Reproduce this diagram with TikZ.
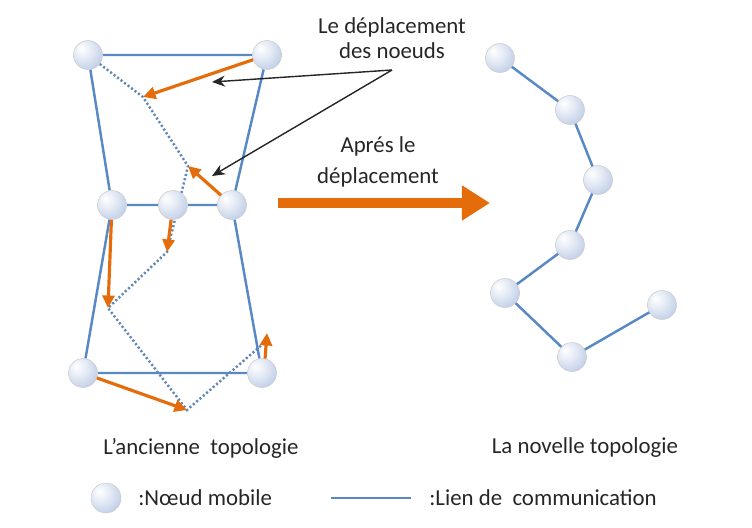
\documentclass[tikz,border=0pt]{standalone}
\usepackage{fontspec}
\setmainfont{Carlito}
\usetikzlibrary{positioning,calc,arrows.meta,backgrounds}
\definecolor{lnk}{RGB}{88,136,198}
\definecolor{mov}{RGB}{228,108,10}
\definecolor{ndb}{RGB}{168,188,222}
\pgfdeclareradialshading{nball}{\pgfpoint{-12bp}{12bp}}{color(0bp)=(white); color(18bp)=(ndb!35); color(45bp)=(ndb); color(70bp)=(ndb!70!gray)}
\tikzset{nd/.style={circle,minimum size=5.8mm,inner sep=0pt,draw=gray!40,line width=0.3pt,shading=nball},
 lk/.style={draw=lnk,line width=1.4pt},
 gh/.style={draw=lnk!80!gray,line width=1.4pt,dash pattern=on 1.2pt off 1.3pt},
 mv/.style={draw=mov,line width=1.8pt,-{Triangle[length=2.5mm,width=2.4mm]}},
 big/.style={draw=mov,line width=5.7pt,-{Triangle[length=16pt,width=19pt]}},
 pt/.style={draw=black!85,line width=0.8pt,-{Stealth[length=2.6mm,width=2.2mm]}},
 txt/.style={font=\fontsize{13}{14.5}\selectfont,text=black!85,align=center,inner sep=0pt}}

\begin{document}
\begin{tikzpicture}[x=0.02cm,y=-0.02cm]
\useasboundingbox (0,0) rectangle (752,528);
	\node[nd] (A) at (88,55) {};
	\node[nd] (B) at (267,55) {};
	\node[nd] (C) at (112,205) {};
	\node[nd] (D) at (173,205) {};
	\node[nd] (E) at (232,205) {};
	\node[nd] (F) at (83,373) {};
	\node[nd] (G) at (262,373) {};
	
	\coordinate (B1) at (143,97);
	\coordinate (E1) at (188,166);
	\coordinate (D1) at (167,252);
	\coordinate (C1) at (108,308);
	\coordinate (F1) at (187,410);
	\coordinate (G1) at (264,343);
	\coordinate (G2) at (267,333);
	
	\begin{scope}[on background layer]
		\draw[lk] (A)--(B) (A)--(C) (B)--(E) (C)--(D) (D)--(E)
		 (C)--(F) (E)--(G) (F)--(G);
		\draw[gh] (A)--(B1)--(E1)--(D1)--(C1)--(F1)--(G1);
	\end{scope}
	
	\draw[mv] (B)--(B1);
	\draw[mv] (E)--(E1);
	\draw[mv] (D)--(D1);
	\draw[mv] (C)--(C1);
	\draw[mv] (F)--(F1);
	\draw[mv] (G.78)--(G2);
	
	\node[txt] (mvlbl) at (392,38) {Le déplacement\\des noeuds};
	\coordinate (mvp) at (392,70);
	\draw[pt] (mvp)--(212,82);
	\draw[pt] (mvp)--(212,176);
	
	\node[txt,font=\fontsize{13}{17.6}\selectfont] (after) at (378,162) {Aprés le\\déplacement};
	\coordinate (go0) at (278,203);
	\coordinate (go1) at (490,203);
	\draw[big] (go0)--(go1);
	
	\node[nd] (r1) at (500,58) {};
	\node[nd] (r2) at (570,110) {};
	\node[nd] (r3) at (598,180) {};
	\node[nd] (r4) at (570,245) {};
	\node[nd] (r5) at (505,293) {};
	\node[nd] (r6) at (572,357) {};
	\node[nd] (r7) at (662,305) {};
	\draw[lk] (r1)--(r2)--(r3)--(r4)--(r5)--(r6)--(r7);
	
	\node[txt] (old) at (201,448) {L'ancienne\ \ topologie};
	\node[txt] (new) at (585,448) {La novelle topologie};
	
	\node[nd,minimum size=6mm] (lgb) at (106,498) {};
	\node[txt,anchor=west] (lgn) at (138,498) {:Nœud mobile};
	\coordinate (lg0) at (331,498);
	\coordinate (lg1) at (411,498);
	\draw[lk] (lg0)--(lg1);
	\node[txt,anchor=west] (lgl) at (429,498) {:Lien de\ \ communication};
\end{tikzpicture}
\end{document}
